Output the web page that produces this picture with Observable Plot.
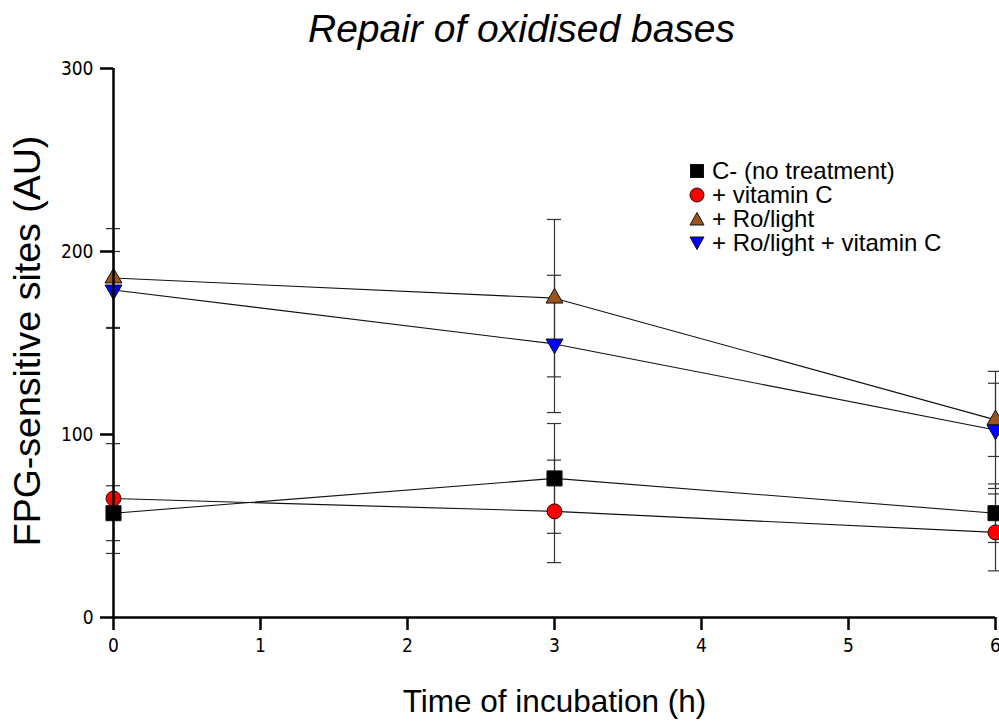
<!DOCTYPE html>
<html><head><meta charset="utf-8">
<script src="https://cdn.jsdelivr.net/npm/d3@7"></script>
<script src="https://cdn.jsdelivr.net/npm/@observablehq/plot@0.6"></script>
<style>
body{margin:0;background:#fff;}
#wrap{position:relative;width:999px;height:724px;overflow:hidden;font-family:"Liberation Sans",Arial,sans-serif;background:#fff;}
#legend{position:absolute;left:688px;top:159px;font-size:24px;line-height:24px;color:#000;}
.row{display:flex;align-items:center;height:24px;white-space:nowrap;}
.row svg{margin-right:6px;flex:none;}
</style></head><body><div id="wrap"><div id="legend"></div></div>
<script>
const times = [0, 3, 6];
const seriesNames = ["C- (no treatment)", "+ vitamin C", "+ Ro/light", "+ Ro/light + vitamin C"];
const cNeg = [57, 76, 57];
const cNegErr = [15, 30, 16];
const vitC = [65, 58, 46.5];
const vitCErr = [30, 28, 21];
const roLight = [185.5, 174.5, 108];
const roLightErr = [27, 43, 20];
const roLightVitC = [179, 149.5, 102.5];
const roLightVitCErr = [21, 37.5, 32];
const yTicks = [0, 100, 200, 300];
const xTicks = [0, 1, 2, 3, 4, 5, 6];
const fills = ["#000000", "#ff0000", "#9a541c", "#0000ff"];

const values = [cNeg, vitC, roLight, roLightVitC];
const errors = [cNegErr, vitCErr, roLightErr, roLightVitCErr];

const data = [];
seriesNames.forEach((s, i) => times.forEach((t, j) => data.push({series: s, idx: i, t, v: values[i][j], e: errors[i][j]})));

const s3 = Math.sqrt(3);
const triDown = {draw(ctx, size) {
  const y = Math.sqrt(size / (s3 * 3));
  ctx.moveTo(0, 2 * y); ctx.lineTo(-s3 * y, -y); ctx.lineTo(s3 * y, -y); ctx.closePath();
}};
const symbols = ["square", "circle", "triangle", triDown];
const radii = [8.5, 7.5, 6.3, 6.3];
const capHalf = 0.048;
const tickFont = '"Liberation Sans Narrow", "Arial Narrow", "DejaVu Sans Condensed", "Liberation Sans", sans-serif';

const dotMarks = seriesNames.map((s, i) => Plot.dot(data.filter(d => d.idx === i), {
  x: "t", y: "v", symbol: symbols[i], r: radii[i], fill: fills[i], stroke: "#111", strokeWidth: 1
}));
const lineMarks = seriesNames.map((s, i) => Plot.line(data.filter(d => d.idx === i), {
  x: "t", y: "v", stroke: "#111", strokeWidth: 1.1
}));

const chart = Plot.plot({
  width: 999, height: 724,
  marginTop: 68, marginBottom: 107, marginLeft: 113, marginRight: 4,
  x: {domain: [0, 6]},
  y: {domain: [0, 300]},
  style: {fontFamily: "Liberation Sans, Arial, sans-serif", background: "white", color: "#000"},
  marks: [
    Plot.ruleX(data, {x: "t", y1: d => d.v - d.e, y2: d => d.v + d.e, stroke: "#333", strokeWidth: 1.2}),
    Plot.ruleY(data, {y: d => d.v - d.e, x1: d => d.t - capHalf, x2: d => d.t + capHalf, stroke: "#333", strokeWidth: 1.2}),
    Plot.ruleY(data, {y: d => d.v + d.e, x1: d => d.t - capHalf, x2: d => d.t + capHalf, stroke: "#333", strokeWidth: 1.2}),
    ...lineMarks,
    ...dotMarks,
    Plot.axisY({ticks: yTicks, tickFormat: d => String(d), tickSize: 13, tickPadding: 7, label: null, strokeWidth: 2.5}),
    Plot.axisX({ticks: xTicks, tickFormat: d => String(d), tickSize: 13, tickPadding: 8, label: null, strokeWidth: 2.5}),
    Plot.ruleX([0], {y1: 0, y2: 300, strokeWidth: 2.5}),
    Plot.ruleY([0], {x1: 0, x2: 6, strokeWidth: 2.5}),
    Plot.text(["Repair of oxidised bases"], {text: d => d, frameAnchor: "top", lineAnchor: "middle", dx: -33, dy: -39, fontSize: 39, fontStyle: "italic"}),
    Plot.text(["FPG-sensitive sites (AU)"], {text: d => d, frameAnchor: "left", textAnchor: "middle", lineAnchor: "middle", dx: -86, dy: -2, rotate: -90, fontSize: 37.5}),
    Plot.text(["Time of incubation (h)"], {text: d => d, frameAnchor: "bottom", lineAnchor: "middle", dx: 0, dy: 84, fontSize: 31.5})
  ]
});
// enlarge tick labels and thicken tick lines
d3.select(chart).selectAll('g[aria-label$="tick label"]')
  .attr("font-size", 19).attr("font-family", tickFont)
  .selectAll("text").attr("font-size", 19).attr("font-family", tickFont);
d3.select(chart).selectAll('g[aria-label$="-axis tick"]').attr("stroke-width", 2.5)
  .selectAll("path,line").attr("stroke-width", 2.5);
document.getElementById("wrap").prepend(chart);

// legend
const legend = document.getElementById("legend");
const iconPaths = [
  '<rect x="2.5" y="2.5" width="13" height="13" fill="#000" stroke="#111"/>',
  '<circle cx="9" cy="9" r="7" fill="#ff0000" stroke="#111"/>',
  '<path d="M9,2.5 L16,15 L2,15 Z" fill="#9a541c" stroke="#111"/>',
  '<path d="M9,15.5 L16,3 L2,3 Z" fill="#0000ff" stroke="#111"/>'
];
seriesNames.forEach((s, i) => {
  const row = document.createElement("div");
  row.className = "row";
  row.innerHTML = `<svg width="18" height="18" viewBox="0 0 18 18">${iconPaths[i]}</svg><span>${s}</span>`;
  legend.appendChild(row);
});
</script>
</body></html>
